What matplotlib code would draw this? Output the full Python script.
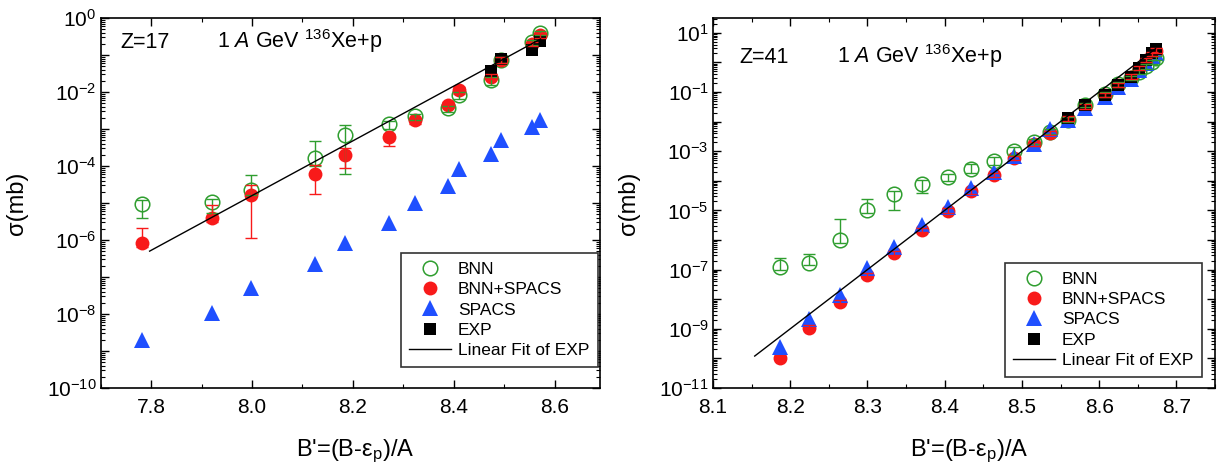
import numpy as np
import matplotlib
matplotlib.use("Agg")
import matplotlib.pyplot as plt
from matplotlib.ticker import LogLocator, MultipleLocator, FuncFormatter, NullFormatter

# ---- Z=17 panel ----
x17 = [7.782, 7.920, 7.999, 8.124, 8.184, 8.271, 8.324, 8.388, 8.410, 8.474, 8.494, 8.555, 8.571]
bnn17 = [9.4e-6, 1.05e-5, 2.2e-5, 1.6e-4, 6.9e-4, 1.35e-3, 2.2e-3, 3.6e-3, 8.3e-3, 2.1e-2, 7.5e-2, 2.2e-1, 3.9e-1]
bnn17_lo = [4.0e-6, 5.5e-6, 1.6e-5, 1.0e-4, 6.2e-5, 1.0e-3, 1.8e-3, 2.9e-3, 6.5e-3, 1.5e-2, 6.2e-2, 1.9e-1, 3.4e-1]
bnn17_hi = [1.2e-5, 1.3e-5, 5.7e-5, 4.8e-4, 1.3e-3, 1.6e-3, 2.6e-3, 4.3e-3, 1.0e-2, 2.5e-2, 9.0e-2, 2.5e-1, 4.4e-1]
bs17 = [8.5e-7, 3.9e-6, 1.6e-5, 6.0e-5, 2.0e-4, 6.0e-4, 1.7e-3, 4.5e-3, 1.1e-2, 2.6e-2, 7.3e-2, 2.0e-1, 3.4e-1]
bs17_lo = [6.5e-7, 3.0e-6, 1.1e-6, 1.7e-5, 9.0e-5, 3.5e-4, 1.4e-3, 3.8e-3, 9.0e-3, 2.2e-2, 6.2e-2, 1.7e-1, 2.9e-1]
bs17_hi = [2.1e-6, 8.9e-6, 3.0e-5, 1.07e-4, 3.1e-4, 7.5e-4, 2.0e-3, 5.3e-3, 1.4e-2, 3.1e-2, 8.6e-2, 2.3e-1, 3.9e-1]
spacs17 = [2.0e-9, 1.05e-8, 5.0e-8, 2.2e-7, 8.5e-7, 2.8e-6, 9.8e-6, 2.8e-5, 8.1e-5, 2.1e-4, 5.0e-4, 1.1e-3, 1.7e-3]
exp17_x = [8.474, 8.494, 8.555, 8.572]
exp17 = [3.7e-2, 7.6e-2, 1.4e-1, 2.4e-1]
fit17_x = [7.797, 8.572]
fit17 = [5.0e-7, 2.7e-1]

# ---- Z=41 panel ----
x41 = [8.187, 8.224, 8.264, 8.299, 8.335, 8.370, 8.404, 8.434, 8.464, 8.490, 8.516,
       8.537, 8.560, 8.582, 8.608, 8.625, 8.641, 8.651, 8.661, 8.668, 8.673]
bnn41 = [1.2e-7, 1.7e-7, 1.0e-6, 1.0e-5, 3.7e-5, 7.8e-5, 1.3e-4, 2.6e-4, 4.8e-4, 1.0e-3, 2.1e-3,
         4.6e-3, 1.15e-2, 3.6e-2, 8.3e-2, 0.18, 0.30, 0.48, 0.74, 1.0, 1.4]
bnn41_lo = [1.0e-7, 1.4e-7, 8.0e-7, 8.0e-6, 1.0e-5, 4.0e-5, 1.0e-4, 1.8e-4, 3.5e-4, 7.5e-4, 1.7e-3,
            3.8e-3, 9.5e-3, 3.0e-2, 7.0e-2, 0.15, 0.25, 0.40, 0.62, 0.85, 1.2]
bnn41_hi = [2.5e-7, 3.4e-7, 5.0e-6, 2.5e-5, 4.5e-5, 1.1e-4, 1.7e-4, 3.6e-4, 6.6e-4, 1.35e-3, 2.6e-3,
            5.5e-3, 1.4e-2, 4.3e-2, 1.0e-1, 0.22, 0.36, 0.57, 0.88, 1.2, 1.7]
bs41 = [1.0e-10, 1.1e-9, 8.0e-9, 6.4e-8, 3.7e-7, 2.1e-6, 9.8e-6, 4.4e-5, 1.6e-4, 5.9e-4, 1.7e-3,
        4.2e-3, 1.25e-2, 3.2e-2, 7.8e-2, 0.17, 0.33, 0.65, 1.2, 1.9, 2.5]
bs41_lo = [8.5e-11, 9.3e-10, 6.8e-9, 5.4e-8, 3.1e-7, 1.8e-6, 8.3e-6, 3.7e-5, 1.35e-4, 5.0e-4, 1.45e-3,
           3.6e-3, 1.05e-2, 2.7e-2, 6.6e-2, 0.145, 0.28, 0.55, 1.0, 1.6, 2.1]
bs41_hi = [1.2e-10, 1.3e-9, 9.6e-9, 7.7e-8, 4.4e-7, 2.5e-6, 1.2e-5, 5.3e-5, 1.9e-4, 7.1e-4, 2.0e-3,
           5.0e-3, 1.5e-2, 3.8e-2, 9.4e-2, 0.2, 0.4, 0.78, 1.45, 2.3, 3.0]
spacs41 = [2.4e-10, 2.2e-9, 1.4e-8, 1.1e-7, 5.6e-7, 3.3e-6, 1.26e-5, 5.9e-5, 2.0e-4, 7.0e-4, 1.8e-3,
           5.7e-3, 1.1e-2, 2.8e-2, 6.8e-2, 0.15, 0.28, 0.55, 0.95, 1.6, 2.1]
exp41_x = [8.560, 8.582, 8.608, 8.625, 8.641, 8.651, 8.661, 8.668, 8.673]
exp41 = [1.3e-2, 3.5e-2, 8.0e-2, 0.17, 0.33, 0.66, 1.2, 2.0, 2.8]
fit41_x = [8.154, 8.673]
fit41 = [1.2e-10, 2.9]

GREEN = '#2f9e2f'
RED = '#f81a1a'
BLUE = '#1f4fff'

plt.rcParams.update({
    'font.family': 'Liberation Sans',
    'mathtext.fontset': 'custom',
    'mathtext.rm': 'Liberation Sans',
    'mathtext.it': 'Liberation Sans:italic',
    'axes.unicode_minus': False,
})

fig = plt.figure(figsize=(12.2, 4.72), dpi=100)
ax1 = fig.add_axes([100.7 / 1220, 84 / 472, 499.3 / 1220, 370 / 472])
ax2 = fig.add_axes([713 / 1220, 84 / 472, 502 / 1220, 370 / 472])


def err(y, lo, hi):
    y, lo, hi = np.array(y), np.array(lo), np.array(hi)
    return [y - lo, hi - y]


def panel(ax, x, bnn, bnn_lo, bnn_hi, bs, bs_lo, bs_hi, spacs, ex, ey, fx, fy):
    h1, = ax.plot(x, bnn, ls='none', marker='o', ms=10.5, mfc='none', mec=GREEN, mew=1.1,
                  zorder=3, label='BNN')
    h2, = ax.plot(x, bs, ls='none', marker='o', ms=10, mfc=RED, mec=RED, mew=0,
                  zorder=4, label='BNN+SPACS')
    h3, = ax.plot(x, spacs, ls='none', marker='^', ms=11, mfc=BLUE, mec=BLUE, mew=0,
                  zorder=5, label='SPACS')
    h4, = ax.plot(ex, ey, ls='none', marker='s', ms=8.5, mfc='black', mec='black', mew=0,
                  zorder=6, label='EXP')
    ax.errorbar(x, bnn, yerr=err(bnn, bnn_lo, bnn_hi), fmt='none', ecolor=GREEN,
                elinewidth=1, capsize=4, capthick=1, zorder=7)
    ax.errorbar(x, bs, yerr=err(bs, bs_lo, bs_hi), fmt='none', ecolor=RED,
                elinewidth=1, capsize=4, capthick=1, zorder=7)
    h5, = ax.plot(fx, fy, color='black', lw=1, zorder=8, label='Linear Fit of EXP')
    return [h1, h2, h3, h4, h5]


def style(ax, odd):
    ax.set_yscale('log')
    ax.yaxis.set_major_locator(LogLocator(base=10, numticks=30))
    ax.yaxis.set_minor_locator(LogLocator(base=10, subs=np.arange(2, 10), numticks=100))
    ax.yaxis.set_minor_formatter(NullFormatter())

    def fmt(v, pos):
        e = int(round(np.log10(v)))
        if (e % 2 != 0) == odd:
            return r'$\mathdefault{10^{%d}}$' % e
        return ''
    ax.yaxis.set_major_formatter(FuncFormatter(fmt))
    ax.tick_params(which='both', direction='in', top=True, right=True)
    ax.tick_params(which='major', length=6, width=1, labelsize=15)
    ax.tick_params(axis='x', which='major', pad=7)
    ax.tick_params(axis='y', which='major', pad=3)
    ax.tick_params(which='minor', length=3, width=0.8)
    for s in ax.spines.values():
        s.set_linewidth(1.2)
    ax.set_xlabel("B'=(B-ε$_\\mathregular{p}$)/A", fontsize=17)
    ax.set_ylabel('σ(mb)', fontsize=17)
    ax.xaxis.set_label_coords(0.51, -0.135)
    ax.yaxis.set_label_coords(-0.146, 0.5)


def add_legend(ax, handles, anchor):
    leg = ax.legend(handles=handles, loc='lower right', bbox_to_anchor=anchor,
                    borderaxespad=0, fancybox=False, edgecolor='#333333', fontsize=12.5,
                    handlelength=2.4, handletextpad=0.4, labelspacing=0.3, borderpad=0.5,
                    framealpha=1)
    leg.get_frame().set_linewidth(1.2)


hs = panel(ax1, x17, bnn17, bnn17_lo, bnn17_hi, bs17, bs17_lo, bs17_hi, spacs17,
           exp17_x, exp17, fit17_x, fit17)
style(ax1, odd=False)
ax1.set_xlim(7.7, 8.69)
ax1.set_ylim(1e-10, 1)
ax1.xaxis.set_major_locator(MultipleLocator(0.2))
ax1.xaxis.set_minor_locator(MultipleLocator(0.1))
ax1.text(0.039, 0.92, 'Z=17', transform=ax1.transAxes, fontsize=15.5, va='baseline')
ax1.text(0.233, 0.92, r'1 $\mathit{A}$ GeV $^{136}$Xe+p', transform=ax1.transAxes,
         fontsize=15.5, va='baseline')
add_legend(ax1, hs, (0.996, 0.057))

hs = panel(ax2, x41, bnn41, bnn41_lo, bnn41_hi, bs41, bs41_lo, bs41_hi, spacs41,
           exp41_x, exp41, fit41_x, fit41)
style(ax2, odd=True)
ax2.set_xlim(8.1, 8.75)
ax2.set_ylim(1e-11, 10 ** 1.5)
ax2.xaxis.set_major_locator(MultipleLocator(0.1))
ax2.xaxis.set_minor_locator(MultipleLocator(0.05))
ax2.text(0.052, 0.879, 'Z=41', transform=ax2.transAxes, fontsize=15.5, va='baseline')
ax2.text(0.247, 0.879, r'1 $\mathit{A}$ GeV $^{136}$Xe+p', transform=ax2.transAxes,
         fontsize=15.5, va='baseline')
add_legend(ax2, hs, (0.974, 0.030))

fig.savefig('out.png', dpi=100)
